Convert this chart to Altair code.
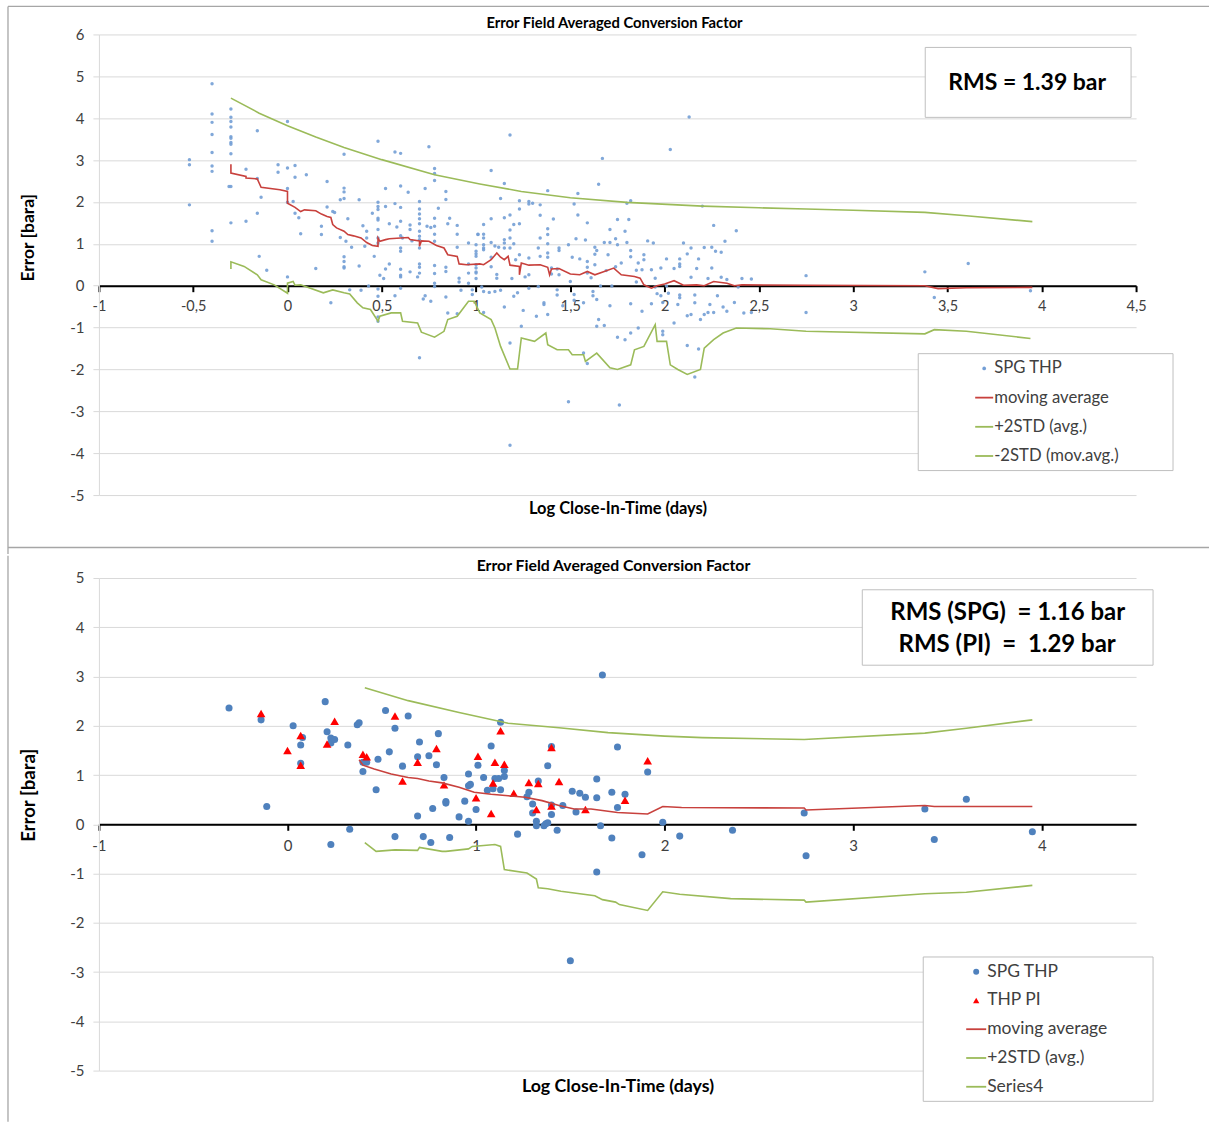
import altair as alt
import pandas as pd

FONT = "Lato"
INK = "#404040"
GRID = "#d9d9d9"
FRAME = "#a6a6a6"
BOX = "#bfbfbf"
RED = "#c8413d"
GREEN = "#9bbb59"
BLUE_LIGHT = "#739ed5"
BLUE = "#4f81bd"
NB = "\u00a0"

TITLE = "Error Field Averaged Conversion Factor"
X_TITLE = "Log Close-In-Time (days)"
Y_TITLE = "Error [bara]"

# ---------------- upper panel: every SPG THP record ----------------
spg_top = [
    (-0.40, 4.82), (-0.40, 4.10), (-0.40, 3.90), (-0.40, 3.61), (-0.40, 3.18), (-0.40, 2.86), (-0.40, 2.73),
    (-0.40, 1.31), (-0.40, 1.06), (-0.52, 3.01), (-0.52, 2.89), (-0.52, 1.93),
    (-0.30, 4.22), (-0.30, 4.02), (-0.30, 3.92), (-0.30, 3.79), (-0.30, 3.56), (-0.30, 3.52), (-0.30, 3.42),
    (-0.30, 3.38), (-0.30, 3.15), (-0.30, 2.37), (-0.31, 2.37), (-0.30, 1.50),
    (-0.16, 3.70), (0.00, 3.92), (-0.22, 2.78), (-0.16, 2.56), (-0.14, 2.11), (-0.16, 1.73), (-0.22, 1.54),
    (-0.15, 0.70), (-0.11, 0.37), (-0.05, 2.89), (-0.05, 2.71), (0.00, 2.81), (0.04, 2.87), (0.04, 2.59),
    (0.10, 2.65), (0.00, 2.32), (0.00, 1.99), (0.03, 2.01), (0.04, 1.73), (0.06, 1.62), (0.07, 1.24),
    (0.00, 0.21), (0.15, 0.41), (0.21, 2.49), (0.30, 3.14), (0.30, 2.33), (0.30, 2.24), (0.30, 2.08),
    (0.28, 2.05), (0.21, 1.88), (0.24, 1.77), (0.25, 1.75), (0.18, 1.42), (0.18, 1.22), (0.28, 1.15),
    (0.31, 1.06), (0.34, 0.92), (0.30, 0.69), (0.30, 0.58), (0.30, 0.45), (0.30, 0.42), (0.32, 1.60),
    (0.38, 2.05), (0.38, 0.47), (0.40, 1.43), (0.42, 1.30), (0.42, 1.14), (0.41, 0.94), (0.45, 1.73),
    (0.48, 3.45), (0.48, 1.99), (0.48, 1.89), (0.48, 1.82), (0.48, 1.61), (0.48, 1.57), (0.48, 1.34),
    (0.48, 1.14), (0.48, 1.02), (0.46, 0.70), (0.49, 0.25), (0.52, 0.40), (0.52, 2.32), (0.52, 1.89),
    (0.51, 0.17), (0.54, 1.48), (0.54, 0.52), (0.57, 3.19), (0.60, 3.16), (0.57, 1.96), (0.58, 1.40),
    (0.60, 2.38), (0.60, 1.87), (0.60, 1.54), (0.60, 1.19), (0.61, 1.14), (0.60, 0.90), (0.60, 0.82),
    (0.60, 0.39), (0.60, 0.25), (0.60, 0.21), (0.64, 2.23), (0.65, 1.45), (0.65, 1.34), (0.66, 1.07),
    (0.65, 0.33), (0.70, 2.01), (0.70, 1.83), (0.70, 1.71), (0.70, 1.60), (0.70, 1.48), (0.70, 1.30),
    (0.70, 1.18), (0.70, 1.10), (0.70, 0.90), (0.70, 0.52), (0.70, 0.44), (0.70, 0.30), (0.69, 0.21),
    (0.73, 2.32), (0.75, 3.32), (0.74, 1.42), (0.76, 1.39), (0.78, 2.80), (0.78, 2.68), (0.78, 2.51),
    (0.78, 1.61), (0.78, 1.42), (0.78, 1.23), (0.78, 1.06), (0.78, 0.48), (0.78, 0.29), (0.78, 0.06),
    (0.80, 1.85), (0.84, 2.25), (0.84, 2.06), (0.86, 1.61), (0.85, 1.48), (0.84, 0.44), (0.84, 0.34),
    (0.90, 1.44), (0.90, 1.23), (0.90, 0.92), (0.91, 0.18), (0.91, 0.09), (0.96, 1.02), (0.96, 0.52),
    (0.96, 0.30), (0.96, 0.06), (1.00, 0.82), (1.00, 0.76), (1.00, 0.70), (1.00, 0.50), (1.00, 0.33),
    (1.00, 0.17), (1.01, 1.23),
    (1.18, 3.60), (1.08, 2.75), (1.15, 2.44), (1.13, 2.08), (1.08, 1.60), (1.04, 1.46), (1.04, 1.23),
    (1.04, 1.14), (1.04, 0.98), (1.04, 0.90), (1.04, 0.86), (1.01, 1.22), (1.00, 0.98), (1.00, 0.42),
    (1.00, 0.30), (1.08, 1.03), (1.10, 0.95), (1.12, 0.92), (1.15, 1.10), (1.15, 1.02), (1.15, 0.90),
    (1.08, 0.68), (1.08, 0.45), (1.11, 0.27), (1.11, 0.18), (1.15, 1.62), (1.18, 1.69), (1.18, 1.33),
    (1.18, 1.14), (1.18, 0.90), (1.20, 1.46), (1.20, 1.00), (1.23, 2.03), (1.23, 1.83), (1.23, 1.48),
    (1.23, 0.74), (1.21, 0.62), (1.19, 0.17), (1.26, 0.21), (1.28, 2.01), (1.28, 1.95), (1.30, 1.97),
    (1.28, 0.66), (1.28, 0.26), (1.33, 0.90), (1.34, 1.93), (1.34, 1.68), (1.34, 1.14), (1.34, 0.70),
    (1.38, 2.27), (1.38, 1.36), (1.38, 1.22), (1.38, 1.00), (1.38, 0.78), (1.38, 0.68), (1.41, 1.59),
    (1.40, 0.42), (1.40, 0.28), (1.44, 0.90), (1.44, 0.84), (1.43, 0.40), (1.44, 0.26), (1.49, 0.98),
    (1.51, 0.68), (1.50, 0.10), (1.53, 1.12), (1.52, 1.95), (1.54, 2.20), (1.54, 1.69), (1.55, 0.64),
    (1.58, 1.09), (1.59, 1.50), (1.59, 0.58), (1.59, 0.44), (1.59, 0.30), (1.61, 0.19), (1.65, 2.42),
    (1.67, 3.04), (1.63, 0.92), (1.64, 0.84), (1.63, 0.75), (1.63, 0.50), (1.68, 1.03), (1.71, 1.03),
    (1.71, 1.34), (1.69, 0.36), (1.74, 1.12), (1.75, 1.58), (1.75, 0.98), (1.74, 0.45), (1.70, 0.74),
    (1.79, 1.30), (1.80, 1.97), (1.82, 2.03), (1.81, 1.58), (1.80, 1.03), (1.77, 0.54), (1.82, 0.84),
    (1.82, 0.69), (1.85, 0.37), (1.86, 0.54), (1.85, 0.09), (1.88, 0.38), (1.89, 0.62), (1.89, 0.74),
    (1.91, 1.07), (1.94, 1.02), (1.93, 0.38), (1.95, 0.18), (1.98, 0.42), (2.01, 0.64), (2.03, 3.25),
    (2.13, 4.03), (2.05, 0.41), (2.08, 0.64), (2.08, 0.52), (2.08, 0.46), (2.10, 1.02), (2.12, 0.76),
    (2.14, 0.90), (2.14, 0.20), (2.17, 0.41), (2.18, 0.64), (2.20, 1.90), (2.21, 0.91), (2.26, 1.44),
    (2.25, 0.92), (2.27, 0.82), (2.30, 0.80), (2.32, 1.06), (2.25, 0.42), (2.30, 0.20), (2.33, 0.15),
    (2.38, 1.31), (2.41, 0.17), (2.46, 0.16), (2.23, 0.17),
    (2.75, 0.24), (3.38, 0.33), (3.61, 0.53), (3.94, -0.12), (3.43, -0.28), (2.75, -0.64),
    (0.23, -0.41), (0.33, -0.10), (0.39, -0.11), (0.43, -0.01), (0.48, -0.08), (0.48, -0.25), (0.48, -0.75),
    (0.48, -0.85), (0.57, -0.24), (0.60, -0.06), (0.70, -1.72), (0.73, -0.24), (0.72, -0.32), (0.76, -0.37),
    (0.78, -0.02), (0.84, -0.27), (0.85, -0.65), (0.90, -0.67), (0.92, -0.11), (0.98, -0.10), (0.98, -0.21),
    (1.03, -0.03), (1.04, -0.14), (1.04, -0.64), (1.07, -0.16), (1.10, -0.14), (1.13, -0.11), (1.15, -0.51),
    (1.18, -1.37), (1.18, -3.81), (1.20, -0.25), (1.22, -0.17), (1.24, -0.97), (1.25, -0.59), (1.28, -0.06),
    (1.32, -0.73), (1.33, -0.02), (1.36, -0.41), (1.36, -0.45), (1.38, -0.69), (1.43, -0.10), (1.43, -0.22),
    (1.46, -0.48), (1.49, -2.77), (1.52, -0.21), (1.52, -0.35), (1.57, -0.41), (1.57, -1.61), (1.59, -1.86),
    (1.62, -0.14), (1.62, -0.24), (1.64, -0.33), (1.65, -0.81), (1.64, -0.97), (1.68, -0.95), (1.66, -0.01),
    (1.71, -0.48), (1.72, -0.01), (1.75, -1.23), (1.76, -2.85), (1.79, -1.29), (1.82, -1.13), (1.82, -0.43),
    (1.86, -1.01), (1.88, -0.61), (1.93, -0.43), (1.95, -0.03), (1.96, -0.19), (1.98, -0.24), (1.99, -0.40),
    (1.99, -1.09), (1.99, -1.17), (2.01, -0.01), (2.02, -0.18), (2.05, -0.89), (2.07, -0.45), (2.08, -0.22),
    (2.08, -0.29), (2.12, -1.43), (2.12, -0.72), (2.14, -0.69), (2.16, -0.22), (2.16, -0.41), (2.16, -2.18),
    (2.18, -1.51), (2.19, -0.81), (2.21, -0.69), (2.23, -0.64), (2.24, -0.45), (2.26, -0.64), (2.28, -0.24),
    (2.31, -0.51), (2.33, -0.61), (2.37, -0.40), (2.39, -0.03), (2.42, -0.65), (2.46, -0.64),
]

mavg_top = [
    (-0.30, 2.90), (-0.30, 2.69), (-0.22, 2.61), (-0.22, 2.57), (-0.16, 2.55), (-0.14, 2.35), (-0.04, 2.29),
    (0.00, 2.25), (0.00, 1.97), (0.04, 1.87), (0.07, 1.77), (0.09, 1.81), (0.15, 1.79), (0.18, 1.71),
    (0.21, 1.65), (0.23, 1.63), (0.24, 1.46), (0.26, 1.38), (0.30, 1.30), (0.32, 1.22), (0.35, 1.19),
    (0.39, 1.14), (0.42, 1.03), (0.45, 0.96), (0.48, 0.94), (0.48, 1.14), (0.49, 1.06), (0.52, 1.10),
    (0.54, 1.12), (0.60, 1.14), (0.64, 1.15), (0.65, 1.10), (0.70, 1.07), (0.70, 0.94), (0.71, 1.07),
    (0.75, 1.06), (0.79, 0.96), (0.83, 0.90), (0.85, 0.74), (0.90, 0.70), (0.91, 0.52), (0.95, 0.50),
    (1.02, 0.52), (1.04, 0.50), (1.08, 0.62), (1.11, 0.78), (1.13, 0.68), (1.15, 0.62), (1.17, 0.70),
    (1.18, 0.49), (1.23, 0.46), (1.23, 0.26), (1.24, 0.54), (1.28, 0.49), (1.34, 0.50), (1.38, 0.44),
    (1.39, 0.26), (1.40, 0.40), (1.44, 0.41), (1.50, 0.28), (1.55, 0.26), (1.59, 0.34), (1.63, 0.26),
    (1.68, 0.34), (1.73, 0.42), (1.77, 0.26), (1.84, 0.22), (1.87, 0.18), (1.89, 0.02), (1.93, -0.06),
    (1.96, 0.00), (2.00, 0.04), (2.05, 0.12), (2.10, 0.01), (2.17, 0.02), (2.21, 0.00), (2.26, 0.10),
    (2.33, 0.06), (2.37, 0.00), (2.41, 0.02), (2.75, 0.01), (3.38, 0.00), (3.45, -0.07), (3.60, -0.05),
    (3.95, -0.04),
]

plus_top = [
    (-0.30, 4.48), (-0.15, 4.12), (0.00, 3.82), (0.15, 3.55), (0.30, 3.30), (0.50, 3.01), (0.78, 2.65),
    (1.02, 2.43), (1.24, 2.25), (1.50, 2.10), (1.80, 1.99), (2.20, 1.90), (2.50, 1.86), (2.75, 1.83),
    (3.00, 1.80), (3.38, 1.75), (3.60, 1.67), (3.95, 1.53),
]

minus_top = [
    (-0.30, 0.40), (-0.30, 0.57), (-0.23, 0.46), (-0.16, 0.26), (-0.14, 0.14), (-0.07, 0.02), (0.00, -0.18),
    (0.00, 0.06), (0.03, 0.10), (0.04, 0.01), (0.07, 0.02), (0.19, -0.17), (0.24, -0.10), (0.30, -0.17),
    (0.33, -0.20), (0.37, -0.41), (0.40, -0.53), (0.44, -0.57), (0.48, -0.85), (0.49, -0.73), (0.55, -0.65),
    (0.60, -0.65), (0.61, -0.85), (0.69, -0.89), (0.71, -1.11), (0.78, -1.23), (0.83, -1.09), (0.85, -0.81),
    (0.90, -0.73), (0.96, -0.37), (0.99, -0.37), (1.02, -0.65), (1.08, -0.81), (1.10, -1.01), (1.13, -1.45),
    (1.18, -1.99), (1.22, -1.99), (1.24, -1.25), (1.31, -1.33), (1.37, -1.13), (1.38, -1.41), (1.43, -1.53),
    (1.49, -1.53), (1.51, -1.65), (1.57, -1.65), (1.58, -1.81), (1.64, -1.61), (1.71, -1.96), (1.75, -2.00),
    (1.82, -1.89), (1.84, -1.53), (1.89, -1.45), (1.95, -0.93), (1.96, -1.33), (2.01, -1.33), (2.03, -1.89),
    (2.07, -2.00), (2.12, -2.12), (2.19, -2.00), (2.21, -1.49), (2.26, -1.29), (2.31, -1.13), (2.38, -1.01),
    (2.56, -1.03), (2.75, -1.09), (3.38, -1.15), (3.43, -1.05), (3.60, -1.09), (3.94, -1.26),
]

# ---------------- lower panel: SPG THP vs THP PI ----------------
spg_bot = [
    (-0.31, 2.36), (-0.14, 2.12), (-0.11, 0.36), (0.03, 2.00), (0.07, 1.61), (0.08, 1.76), (0.07, 1.24),
    (0.20, 2.49), (0.21, 1.88), (0.23, 1.75), (0.23, 1.65), (0.25, 1.72), (0.23, -0.41), (0.32, 1.61),
    (0.33, -0.10), (0.37, 2.02), (0.38, 2.06), (0.40, 1.07), (0.40, 1.26), (0.42, 1.26), (0.48, 1.32),
    (0.47, 0.70), (0.52, 2.31), (0.54, 1.47), (0.57, 1.95), (0.57, -0.25), (0.61, 1.18), (0.64, 2.20),
    (0.69, 1.37), (0.70, 1.67), (0.69, 0.17), (0.72, -0.25), (0.75, 1.39), (0.76, -0.37), (0.77, 0.32),
    (0.79, 1.21), (0.80, 1.84), (0.83, 0.95), (0.84, 0.46), (0.84, 0.43), (0.86, -0.27), (0.91, 0.15),
    (0.94, 0.47), (0.96, 1.02), (0.96, 0.78), (0.97, 0.81), (0.96, 0.06), (1.00, 0.30), (1.01, 1.20),
    (1.04, 0.95), (1.06, 0.69), (1.08, 1.59), (1.09, 0.72), (1.10, 0.93), (1.12, 0.93), (1.13, 0.70),
    (1.13, 2.07), (1.15, 1.09), (1.15, 0.97), (1.22, -0.20), (1.27, 0.56), (1.28, 0.65), (1.33, 0.88),
    (1.30, 0.41), (1.30, 0.23), (1.32, 0.06), (1.32, -0.03), (1.36, -0.03), (1.37, 0.01), (1.38, 0.03),
    (1.38, 1.19), (1.40, 0.39), (1.40, 0.20), (1.40, 1.58), (1.43, -0.12), (1.46, 0.38), (1.51, 0.67),
    (1.53, 0.25), (1.55, 0.63), (1.58, 0.55), (1.64, 0.92), (1.64, -0.97), (1.64, 0.54), (1.66, -0.03),
    (1.67, 3.03), (1.72, -0.28), (1.72, 0.65), (1.75, 1.57), (1.75, 0.34), (1.79, 0.61), (1.88, -0.62),
    (1.91, 1.06), (1.99, 0.04), (2.08, -0.24), (2.36, -0.12), (2.74, 0.23), (2.75, -0.64), (3.38, 0.31),
    (3.43, -0.31), (3.60, 0.51), (3.95, -0.15), (1.50, -2.77),
]

pi_bot = [
    (-0.14, 2.25), (0.00, 1.50), (0.07, 1.80), (0.07, 1.20), (0.21, 1.63), (0.25, 2.09), (0.40, 1.42),
    (0.42, 1.37), (0.57, 2.20), (0.61, 0.88), (0.69, 1.26), (0.79, 1.54), (0.83, 0.80), (1.00, 0.54),
    (1.01, 1.38), (1.08, 0.22), (1.09, 0.84), (1.10, 1.26), (1.13, 1.90), (1.15, 1.22), (1.20, 0.63),
    (1.28, 0.85), (1.32, 0.30), (1.33, 0.83), (1.40, 0.37), (1.40, 1.56), (1.44, 0.87), (1.58, 0.30),
    (1.79, 0.49), (1.91, 1.29),
]

mavg_bot = [
    (0.38, 1.31), (0.40, 1.20), (0.46, 1.12), (0.55, 1.02), (0.64, 0.95), (0.69, 0.93), (0.75, 0.88),
    (0.82, 0.84), (0.91, 0.75), (0.99, 0.65), (1.08, 0.61), (1.17, 0.58), (1.26, 0.55), (1.35, 0.48),
    (1.44, 0.38), (1.52, 0.31), (1.61, 0.31), (1.75, 0.24), (1.91, 0.21), (1.99, 0.36), (2.09, 0.34),
    (2.74, 0.33), (2.75, 0.29), (3.38, 0.38), (3.43, 0.36), (3.95, 0.36),
]

plus_bot = [
    (0.41, 2.77), (0.64, 2.51), (0.91, 2.27), (1.17, 2.05), (1.44, 1.96), (1.70, 1.86), (2.00, 1.79),
    (2.20, 1.76), (2.74, 1.72), (3.38, 1.85), (3.60, 1.95), (3.95, 2.12),
]

minus_bot = [
    (0.41, -0.37), (0.47, -0.55), (0.57, -0.52), (0.69, -0.53), (0.70, -0.47), (0.82, -0.55), (0.84, -0.55),
    (0.96, -0.50), (0.98, -0.45), (1.04, -0.43), (1.10, -0.41), (1.13, -0.45), (1.15, -0.92), (1.27, -0.99),
    (1.32, -1.11), (1.33, -1.29), (1.38, -1.31), (1.45, -1.36), (1.63, -1.45), (1.67, -1.53), (1.74, -1.58),
    (1.76, -1.63), (1.91, -1.75), (1.99, -1.37), (2.08, -1.42), (2.35, -1.51), (2.74, -1.54), (2.75, -1.58),
    (3.38, -1.41), (3.60, -1.38), (3.95, -1.24),
]

top_x_ticks = [-1, -0.5, 0, 0.5, 1, 1.5, 2, 2.5, 3, 3.5, 4, 4.5]
top_y_ticks = list(range(-5, 7))
bot_x_ticks = [-1, 0, 1, 2, 3, 4]
bot_y_ticks = list(range(-5, 6))

top_legend = [("SPG THP", "dot", BLUE_LIGHT), ("moving average", "line", RED),
              ("+2STD (avg.)", "line", GREEN), ("-2STD (mov.avg.)", "line", GREEN)]
bot_legend = [("SPG THP", "dot", BLUE), ("THP PI", "tri", "#ff0000"), ("moving average", "line", RED),
              ("+2STD (avg.)", "line", GREEN), ("Series4", "line", GREEN)]

top_rms = ["RMS = 1.39 bar"]
bot_rms = ["RMS (SPG)" + NB * 2 + "= 1.16 bar", "RMS (PI)" + NB * 2 + "=" + NB * 2 + "1.29 bar"]

X0 = 98.0        # page x of the plot-area left edge, both panels
PLOT_W = 1038
ONE = pd.DataFrame({"k": [0]})


def frame(pairs):
    return pd.DataFrame({"x": [p[0] for p in pairs], "y": [p[1] for p in pairs],
                         "i": list(range(len(pairs)))})


def axes(ymin, ymax, height, x_ticks, y_ticks, x_title_dy, y_title_y, lab, xttl, yttl):
    zero_up = height * (0 - ymin) / (ymax - ymin)
    x = alt.X("x:Q", scale=alt.Scale(domain=[-1, 4.5], nice=False, zero=False),
              axis=alt.Axis(values=x_ticks, offset=-zero_up, grid=False, domainColor="black",
                            domainWidth=2, tickColor="black", tickWidth=2, tickSize=6,
                            labelFlush=False, labelPadding=8,
                            labelExpr="replace(toString(datum.value), '.', ',')",
                            labelFont=FONT, labelFontSize=lab, labelColor=INK,
                            title=X_TITLE, titleFont=FONT, titleFontSize=xttl, titleFontWeight="bold",
                            titleColor="black", titleY=x_title_dy, titleBaseline="middle"))
    y = alt.Y("y:Q", scale=alt.Scale(domain=[ymin, ymax], nice=False, zero=False),
              axis=alt.Axis(values=y_ticks, grid=True, gridColor=GRID, gridWidth=1,
                            domainColor=GRID, tickColor=GRID, tickSize=6, labelPadding=9,
                            labelExpr="toString(datum.value)", labelFont=FONT, labelFontSize=15,
                            labelColor=INK, title=Y_TITLE, titleFont=FONT, titleFontSize=yttl,
                            titleFontWeight="bold", titleColor="black", titleX=-70, titleY=y_title_y,
                            titleAngle=-90, titleBaseline="middle", titleAlign="center"))
    return x, y


def rule(x1, y1, x2, y2, color=FRAME, width=1.3):
    return alt.Chart(ONE).mark_rule(color=color, strokeWidth=width).encode(
        x=alt.value(x1), y=alt.value(y1), x2=alt.value(x2), y2=alt.value(y2))


def box(x1, y1, x2, y2):
    return alt.Chart(ONE).mark_rect(fill="white", stroke=BOX, strokeWidth=1).encode(
        x=alt.value(x1), y=alt.value(y1), x2=alt.value(x2), y2=alt.value(y2))


def text(t, x, y, size, weight="normal", align="center", color="black"):
    return alt.Chart(ONE).mark_text(text=t, font=FONT, fontSize=size, fontWeight=weight,
                                    align=align, baseline="middle", color=color).encode(
        x=alt.value(x), y=alt.value(y))


def legend(entries, oy, bx1, by1, bx2, by2, y0, dy, sx, lx1, lx2, tx, size, dot, tri):
    out = [box(bx1 - X0, by1 - oy, bx2 - X0, by2 - oy)]
    for k, (name, kind, color) in enumerate(entries):
        yy = y0 + k * dy - oy
        if kind == "dot":
            out.append(alt.Chart(ONE).mark_circle(color=color, size=dot, opacity=1).encode(
                x=alt.value(sx - X0), y=alt.value(yy)))
        elif kind == "tri":
            out.append(alt.Chart(ONE).mark_point(shape="triangle-up", filled=True, color=color,
                                                 size=tri, opacity=1).encode(
                x=alt.value(sx - X0), y=alt.value(yy)))
        else:
            out.append(rule(lx1 - X0, yy, lx2 - X0, yy, color=color, width=1.8))
        out.append(text(name, tx - X0, yy, size, color=INK, align="left"))
    return out


def line(pairs, color, X, Y):
    return alt.Chart(frame(pairs)).mark_line(color=color, strokeWidth=1.6).encode(
        x=X, y=Y, order=alt.Order("i:Q"))


# ---------- upper panel ----------
TOP_OY = 34.0
TOP_H = 461
SPLIT = 554.0     # lowest page y reached by the upper panel's left frame line
Xt, Yt = axes(-5, 6, TOP_H, top_x_ticks, top_y_ticks, 223.5, 203, 14.5, 16.5, 17.5)
top_layers = [
    rule(-97.5, -33.35, -97.5, -31, color="white", width=1.3),
    rule(7 - X0, 6 - TOP_OY, 7 - X0, SPLIT - TOP_OY),
    rule(7 - X0, 6 - TOP_OY, 1209 - X0, 6 - TOP_OY),
    rule(7 - X0, 547.5 - TOP_OY, 1209 - X0, 547.5 - TOP_OY),
    alt.Chart(frame(spg_top)).mark_circle(color=BLUE_LIGHT, size=12, opacity=0.9).encode(x=Xt, y=Yt),
    line(mavg_top, RED, Xt, Yt),
    line(plus_top, GREEN, Xt, Yt),
    line(minus_top, GREEN, Xt, Yt),
    box(925 - X0, 47 - TOP_OY, 1131 - X0, 117 - TOP_OY),
    text(top_rms[0], 1027 - X0, 83 - TOP_OY, 23, weight="bold"),
    text(TITLE, 614 - X0, 23.5 - TOP_OY, 14.8, weight="bold"),
]
top_layers += legend(top_legend, TOP_OY, 918, 353.5, 1173, 470.5, 368.3, 29.2, 984, 975, 993, 994,
                     16.7, 14, 30)
top = alt.layer(*top_layers).properties(width=PLOT_W, height=TOP_H)

# ---------- lower panel ----------
BOT_OY = 578.7
BOT_H = 493
# the lower panel's left frame line starts where the upper one stops; its start also fixes
# how far below the upper panel the lower plot area sits
LOWER_START = SPLIT + 1.3 - BOT_OY + 1.2
Xb, Yb = axes(-5, 5, BOT_H, bot_x_ticks, bot_y_ticks, 262, 217, 15, 17.8, 18.6)
bot_layers = [
    rule(-97.5, 0, -97.5, 3, color="white", width=1),
    rule(7 - X0, LOWER_START, 7 - X0, 1123 - BOT_OY),
    alt.Chart(frame(spg_bot)).mark_circle(color=BLUE, size=50, opacity=1).encode(x=Xb, y=Yb),
    alt.Chart(frame(pi_bot)).mark_point(shape="triangle-up", filled=True, color="#ff0000", size=75,
                                        opacity=1).encode(x=Xb, y=Yb),
    line(mavg_bot, RED, Xb, Yb),
    line(plus_bot, GREEN, Xb, Yb),
    line(minus_bot, GREEN, Xb, Yb),
    box(862 - X0, 590.5 - BOT_OY, 1153 - X0, 666 - BOT_OY),
    text(bot_rms[0], 1007.5 - X0, 613.5 - BOT_OY, 24, weight="bold"),
    text(bot_rms[1], 1007 - X0, 645.5 - BOT_OY, 24, weight="bold"),
    text(TITLE, 613 - X0, 567 - BOT_OY, 15.8, weight="bold"),
]
bot_layers += legend(bot_legend, BOT_OY, 923, 958, 1153, 1102.5, 972.7, 28.8, 976, 966, 986, 987,
                     17.5, 36, 40)
bottom = alt.layer(*bot_layers).properties(width=PLOT_W, height=BOT_H)

chart = alt.vconcat(top, bottom, spacing=0).properties(padding=0).configure_view(stroke=None)
chart.save("out.html", embed_options={"renderer": "svg", "actions": False})
